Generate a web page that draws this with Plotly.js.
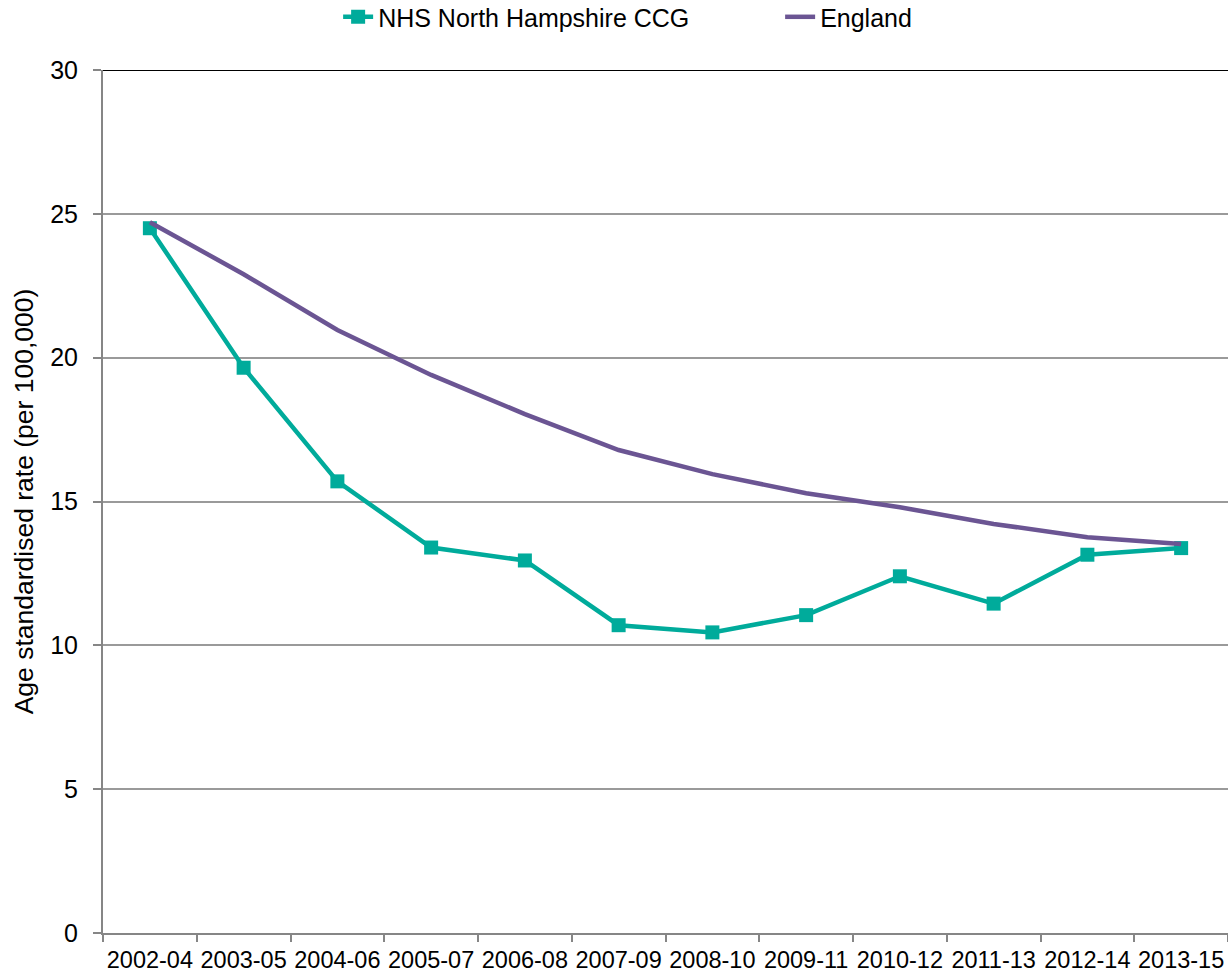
<!DOCTYPE html>
<html>
<head>
<meta charset="utf-8">
<script src="https://cdn.plot.ly/plotly-3.0.1.min.js"></script>
<style>html,body{margin:0;padding:0;background:#fff;}#chart{width:1228px;height:976px;}</style>
</head>
<body>
<div id="chart"></div>
<script>
const categories = ["2002-04","2003-05","2004-06","2005-07","2006-08","2007-09","2008-10","2009-11","2010-12","2011-13","2012-14","2013-15"];
const nhsValues = [24.5, 19.65, 15.7, 13.4, 12.95, 10.7, 10.45, 11.05, 12.4, 11.45, 13.15, 13.38];
const englandValues = [24.71, 22.9, 20.96, 19.4, 18.04, 16.79, 15.95, 15.29, 14.8, 14.22, 13.76, 13.52];
const seriesNames = ["NHS North Hampshire CCG", "England"];

const traces = [
  {
    x: categories, y: nhsValues, name: seriesNames[0], type: "scatter", mode: "lines+markers",
    line: {color: "#00AB9B", width: 4.5},
    marker: {symbol: "square", size: 14, color: "#00AB9B"}
  },
  {
    x: categories, y: englandValues, name: seriesNames[1], type: "scatter", mode: "lines",
    line: {color: "#6B5593", width: 4.5}
  }
];

const layout = {
  width: 1228, height: 976,
  margin: {l: 103, r: 0, t: 70, b: 43, autoexpand: false},
  paper_bgcolor: "#fff", plot_bgcolor: "#fff",
  font: {family: "Liberation Sans, Arial, sans-serif", color: "#000", size: 24},
  showlegend: true,
  legend: {orientation: "h", x: 0.209, xanchor: "left", y: 1.088, yref: "paper", yanchor: "top",
           font: {size: 25}, entrywidth: 397, traceorder: "normal", bgcolor: "rgba(0,0,0,0)"},
  xaxis: {
    type: "category", range: [-0.5, 11.5], tickson: "boundaries", ticks: "outside", ticklen: 7, tickwidth: 2, tickcolor: "#868686",
    showline: true, linecolor: "#868686", linewidth: 2, showgrid: false, tickangle: 0,
    tickfont: {size: 23.5}, ticklabelstandoff: 5, automargin: false
  },
  yaxis: {
    range: [0, 30], dtick: 5, ticks: "outside", ticklen: 8, tickwidth: 2, tickcolor: "#868686",
    showline: true, linecolor: "#868686", linewidth: 2,
    showgrid: true, gridcolor: "#9a9a9a", gridwidth: 2, zeroline: false,
    tickfont: {size: 25}, ticklabelstandoff: 10,
    title: {text: "Age standardised rate (per 100,000)", font: {size: 26.5}, standoff: 9},
    automargin: false
  },
  shapes: [
    {type: "line", xref: "paper", yref: "y", x0: 0, x1: 1, y0: 30, y1: 30, line: {color: "#000", width: 2}}
  ]
};

Plotly.newPlot("chart", traces, layout, {displayModeBar: false, staticPlot: true});
</script>
</body>
</html>
